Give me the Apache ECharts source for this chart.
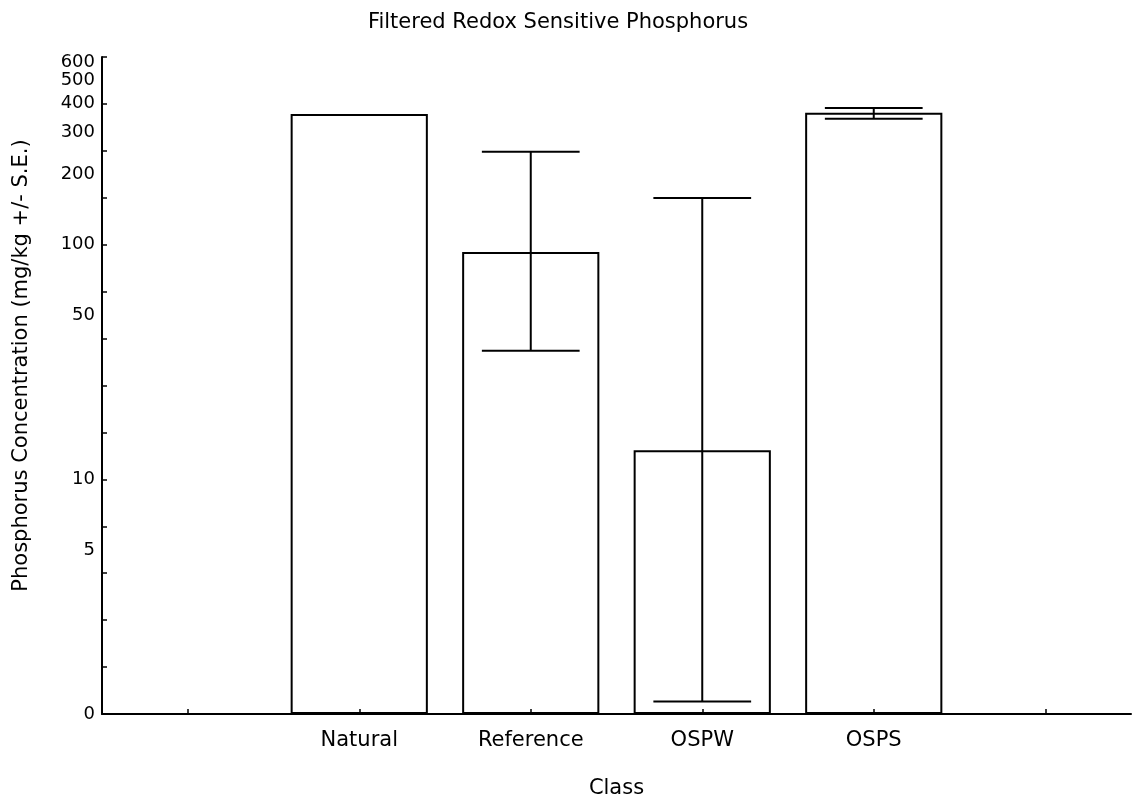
<!DOCTYPE html>
<html>
<head>
<meta charset="utf-8">
<script src="https://cdn.jsdelivr.net/npm/echarts@6/dist/echarts.min.js"></script>
<style>
  html, body { margin: 0; padding: 0; background: #fff; }
  #chart { width: 1135px; height: 801px; }
</style>
</head>
<body>
<div id="chart"></div>
<script>
// categories (blank slots at both ends, like the original plot)
var classes = ['', 'Natural', 'Reference', 'OSPW', 'OSPS', ''];
// mean values, mg/kg
var means = [null, 361, 93.2, 13.3, 365, null];
// mean +/- S.E.
var seLow = [null, null, 35.3, 1.13, 344, null];
var seHigh = [null, null, 249, 158, 383, null];
// y axis labels and tick marks
var yLabelValues = [1, 5, 10, 50, 100, 200, 300, 400, 500, 600];
var yTickValues = [1, 1.585, 2.512, 3.981, 6.31, 10, 15.85, 25.12, 39.81, 63.1, 100, 158.5, 251.2, 398.1, 630.9];
var xTickValues = [0, 1, 2, 3, 4, 5];

var font = 'DejaVu Sans, Liberation Sans, sans-serif';

var errData = [];
for (var i = 0; i < classes.length; i++) {
    if (seLow[i] != null) errData.push([i, seLow[i], seHigh[i]]);
}

var chart = echarts.init(document.getElementById('chart'));
var option = {
    animation: false,
    backgroundColor: '#fff',
    title: {
        text: 'Filtered Redox Sensitive Phosphorus',
        left: 553,
        top: 7,
        textAlign: 'center',
        textStyle: { fontFamily: font, fontSize: 21, fontWeight: 'normal', color: '#000' }
    },
    grid: { left: 102, right: 4, top: 57, bottom: 87, outerBoundsMode: 'none' },
    xAxis: {
        type: 'category',
        data: classes,
        z: 5,
        name: 'Class',
        nameLocation: 'middle',
        nameGap: 64,
        nameTextStyle: { fontFamily: font, fontSize: 21, color: '#000' },
        axisLine: { lineStyle: { color: '#000', width: 2 } },
        axisTick: { show: true, alignWithLabel: true, interval: 0, inside: true, length: 5, customValues: xTickValues, lineStyle: { color: '#000', width: 1.5 } },
        axisLabel: { interval: 0, margin: 16, fontFamily: font, fontSize: 21, color: '#000' },
        splitLine: { show: false }
    },
    yAxis: {
        type: 'log',
        logBase: 10,
        min: 1,
        max: 631,
        z: 5,
        name: 'Phosphorus Concentration (mg/kg +/- S.E.)',
        nameLocation: 'middle',
        nameGap: 70,
        nameTextStyle: { fontFamily: font, fontSize: 21, color: '#000', padding: [0, 0, 0, 40] },
        axisLine: { show: true, lineStyle: { color: '#000', width: 2 } },
        axisTick: { show: true, inside: true, length: 5, customValues: yTickValues, lineStyle: { color: '#000', width: 1.5 } },
        axisLabel: {
            customValues: yLabelValues,
            showMinLabel: true,
            showMaxLabel: true,
            hideOverlap: false,
            margin: 7,
            fontFamily: font,
            fontSize: 18,
            color: '#000',
            formatter: function (v) { return v === 1 ? '0' : String(Math.round(v)); }
        },
        splitLine: { show: false }
    },
    series: [
        {
            type: 'bar',
            data: means,
            barWidth: '80%',
            itemStyle: { color: '#fff', borderColor: '#000', borderWidth: 2 },
            z: 2
        },
        {
            type: 'custom',
            data: errData,
            z: 3,
            renderItem: function (params, api) {
                var x = api.value(0);
                var lo = api.coord([x, api.value(1)]);
                var hi = api.coord([x, api.value(2)]);
                var half = api.size([1, 0])[0] * 0.285;
                var st = { stroke: '#000', lineWidth: 2 };
                return {
                    type: 'group',
                    children: [
                        { type: 'line', shape: { x1: lo[0], y1: lo[1], x2: hi[0], y2: hi[1] }, style: st },
                        { type: 'line', shape: { x1: hi[0] - half, y1: hi[1], x2: hi[0] + half, y2: hi[1] }, style: st },
                        { type: 'line', shape: { x1: lo[0] - half, y1: lo[1], x2: lo[0] + half, y2: lo[1] }, style: st }
                    ]
                };
            }
        }
    ]
};
chart.setOption(option);
</script>
</body>
</html>
